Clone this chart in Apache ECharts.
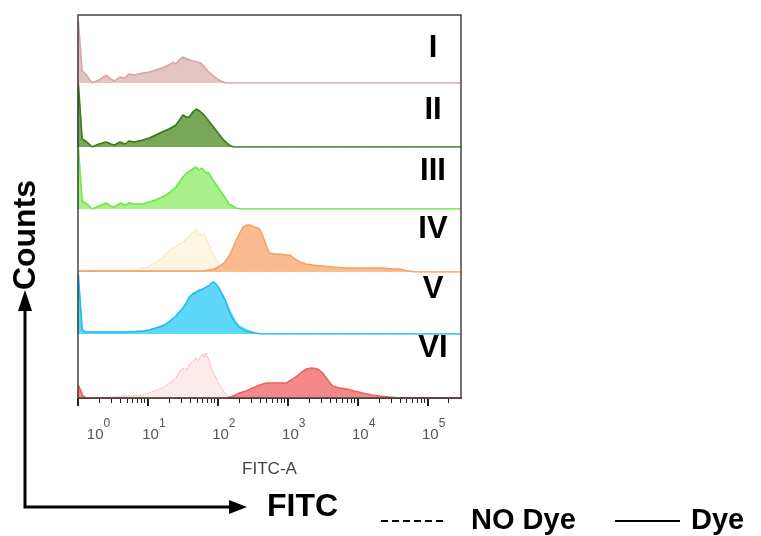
<!DOCTYPE html>
<html>
<head>
<meta charset="utf-8">
<script src="https://cdn.jsdelivr.net/npm/echarts@6/dist/echarts.min.js"></script>
<style>
  html, body { margin: 0; padding: 0; background: #fff; }
  #chart { width: 761px; height: 536px; }
</style>
</head>
<body>
<div id="chart"></div>
<script>
// FITC position is in decades (log10 of FITC-A), counts are per-panel histogram heights
const panelNames = ['I', 'II', 'III', 'IV', 'V', 'VI'];
const decadeTicks = [0, 1, 2, 3, 4, 5];

const noDyeI = [[0,0],[0.005,60],[0.03,60],[0.06,11],[0.11,8],[0.16,4],[0.2,0],[0.3,3],[0.4,7],[0.47,4],[0.52,2],[0.6,5],[0.67,5],[0.73,8],[0.8,8],[0.93,9],[1.02,11],[1.11,12],[1.2,14],[1.3,17],[1.36,20],[1.4,19],[1.46,23],[1.5,25],[1.56,24],[1.64,22],[1.7,21],[1.76,19],[1.82,15],[1.87,11],[1.94,7],[2.01,3],[2.1,0],[5.48,0]];
const dyeI = [[0,0],[0.005,62],[0.03,62],[0.06,12],[0.11,9],[0.16,4],[0.2,0],[0.3,3],[0.4,8],[0.47,4],[0.52,2],[0.6,6],[0.67,5],[0.73,9],[0.8,8],[0.93,10],[1.02,11],[1.11,13],[1.2,15],[1.3,18],[1.36,21],[1.4,19],[1.46,24],[1.5,26],[1.56,24],[1.64,22],[1.7,21],[1.76,20],[1.82,15],[1.87,11],[1.94,7],[2.01,3],[2.11,0],[5.48,0]];

const noDyeII = [[0,0],[0.005,63],[0.03,63],[0.06,7],[0.11,5],[0.16,3],[0.2,0],[0.3,3],[0.4,5],[0.47,3],[0.52,2],[0.6,4],[0.67,3],[0.73,6],[0.8,5],[0.93,7],[1.02,9],[1.11,11],[1.2,14],[1.3,17],[1.4,21],[1.46,27],[1.5,31],[1.55,30],[1.59,29],[1.64,34],[1.69,37],[1.74,36],[1.79,33],[1.87,26],[1.97,17],[2.07,8],[2.16,2],[2.22,0],[5.48,0]];
const dyeII = [[0,0],[0.005,64],[0.03,64],[0.06,8],[0.11,6],[0.16,3],[0.2,0],[0.3,3],[0.4,5],[0.47,3],[0.52,2],[0.6,5],[0.67,3],[0.73,6],[0.8,5],[0.93,7],[1.02,9],[1.11,12],[1.2,15],[1.3,18],[1.4,22],[1.46,28],[1.5,32],[1.55,30],[1.59,30],[1.64,35],[1.69,38],[1.74,36],[1.79,33],[1.87,26],[1.97,17],[2.07,8],[2.16,2],[2.22,0],[5.48,0]];

const noDyeIII = [[0,0],[0.005,61],[0.03,61],[0.06,7],[0.11,5],[0.16,3],[0.2,0],[0.3,3],[0.4,5],[0.47,3],[0.52,2],[0.6,5],[0.67,4],[0.73,6],[0.8,5],[0.93,5],[1.02,7],[1.11,9],[1.2,11],[1.26,14],[1.33,17],[1.4,21],[1.45,26],[1.5,31],[1.55,35],[1.59,37],[1.64,40],[1.69,41],[1.73,39],[1.77,40],[1.82,37],[1.87,35],[1.92,30],[1.97,25],[2.07,15],[2.16,5],[2.26,1],[2.32,0],[5.48,0]];
const dyeIII = [[0,0],[0.005,62],[0.03,62],[0.06,8],[0.11,6],[0.16,3],[0.2,0],[0.3,3],[0.4,6],[0.47,3],[0.52,2],[0.6,6],[0.67,4],[0.73,6],[0.8,5],[0.93,5],[1.02,7],[1.11,9],[1.2,12],[1.26,14],[1.33,18],[1.4,22],[1.45,27],[1.5,32],[1.55,36],[1.59,38],[1.64,40],[1.69,42],[1.73,39],[1.77,41],[1.82,37],[1.87,36],[1.92,30],[1.97,25],[2.07,15],[2.16,5],[2.26,1],[2.32,0],[5.48,0]];

const noDyeIV = [[0,1],[0.3,2],[0.6,2],[0.84,2],[0.95,4],[1.1,9],[1.2,14],[1.31,22],[1.4,26],[1.5,30],[1.59,36],[1.65,40],[1.69,43],[1.73,38],[1.77,36],[1.8,38],[1.84,33],[1.91,21],[1.97,13],[2.03,5],[2.08,1],[2.15,0],[5.48,0]];
const dyeIV = [[0,1],[0.5,1],[1.0,1],[1.5,1],[1.79,1],[1.95,3],[2.03,6],[2.1,10],[2.17,17],[2.22,25],[2.27,33],[2.32,40],[2.36,45],[2.42,47],[2.46,47],[2.52,45],[2.58,44],[2.62,40],[2.66,33],[2.7,25],[2.74,19],[2.81,18],[2.89,18],[2.96,17],[3.03,17],[3.1,13],[3.17,10],[3.26,8],[3.36,7],[3.5,6],[3.64,5],[3.85,4],[4.03,4],[4.2,4],[4.36,4],[4.5,3],[4.6,3],[4.72,1],[4.84,0],[5.48,0]];

const noDyeV = [[0,0],[0.005,58],[0.03,58],[0.06,4],[0.11,2],[0.3,2],[0.5,2],[0.7,2],[0.93,3],[1.02,4],[1.11,6],[1.2,8],[1.26,10],[1.33,13],[1.4,17],[1.45,21],[1.5,25],[1.55,30],[1.59,35],[1.64,39],[1.69,41],[1.74,43],[1.79,44],[1.83,46],[1.87,47],[1.91,49],[1.94,50],[1.97,49],[2.01,46],[2.06,41],[2.11,34],[2.15,27],[2.2,20],[2.25,14],[2.3,9],[2.4,5],[2.5,2],[2.6,0],[5.48,0]];
const dyeV = [[0,0],[0.005,60],[0.03,60],[0.06,4],[0.11,2],[0.3,2],[0.5,2],[0.7,2],[0.93,3],[1.02,4],[1.11,6],[1.2,8],[1.26,10],[1.33,14],[1.4,18],[1.45,22],[1.5,26],[1.55,31],[1.59,37],[1.64,40],[1.69,42],[1.74,44],[1.79,45],[1.83,47],[1.87,48],[1.91,51],[1.94,52],[1.97,50],[2.01,47],[2.06,40],[2.11,33],[2.15,25],[2.2,17],[2.25,11],[2.3,7],[2.4,3],[2.54,1],[2.62,0],[5.48,0]];

const noDyeVI = [[0,0],[0.3,1],[0.5,1],[0.7,2],[0.93,3],[1.05,6],[1.2,10],[1.3,14],[1.4,20],[1.45,26],[1.5,30],[1.55,28],[1.59,33],[1.65,37],[1.69,40],[1.72,38],[1.76,42],[1.79,44],[1.81,41],[1.83,45],[1.87,38],[1.91,30],[1.96,22],[2.01,15],[2.06,9],[2.11,4],[2.17,1],[2.22,0],[5.48,0]];
const dyeVI = [[0,0],[0.005,13],[0.03,12],[0.07,2],[0.12,0],[2.13,0],[2.22,2],[2.31,5],[2.4,7],[2.5,10],[2.6,13],[2.69,15],[2.8,15],[2.9,15],[2.98,15],[3.05,18],[3.13,22],[3.2,26],[3.27,29],[3.33,30],[3.4,29.5],[3.45,28],[3.5,25],[3.57,18],[3.64,12],[3.74,10],[3.84,9],[3.95,7],[4.07,5],[4.2,3],[4.31,2],[4.45,1],[4.6,0],[5.48,0]];

const noDyeData = [noDyeI, noDyeII, noDyeIII, noDyeIV, noDyeV, noDyeVI];
const dyeData = [dyeI, dyeII, dyeIII, dyeIV, dyeV, dyeVI];

// styling
const noDyeFill = ['#e8caca', '#80ab60', '#b0f397', '#fff5e2', '#8fe2f8', '#fdeaea'];
const noDyeLine = ['#dcb0b0', '#4d8a30', '#80e860', '#f4d9a0', '#5ed3f3', '#f2aaae'];
const dyeFill = ['#e4c3c3', '#77a656', '#a6f08b', '#f8b483', '#5ad6f7', '#f47b7b'];
const dyeLine = ['#d6a6a6', '#3a7b1c', '#72e54d', '#f3a264', '#19bdec', '#ee6060'];

const xMax = Math.log10(300000);
const panelEdges = [15, 83, 147, 209, 272, 334, 398];
const plotLeft = 78;
const plotWidth = 383;

const minorTicks = [];
decadeTicks.forEach(d => {
  for (let k = 2; k <= 9; k++) {
    const v = d + Math.log10(k);
    if (v < xMax) minorTicks.push(v);
  }
});

const chart = echarts.init(document.getElementById('chart'));

const grids = [], xAxes = [], yAxes = [], series = [];
panelNames.forEach((name, i) => {
  const h = panelEdges[i + 1] - panelEdges[i];
  grids.push({ left: plotLeft, top: panelEdges[i], width: plotWidth, height: h });
  const last = i === panelNames.length - 1;
  xAxes.push({
    type: 'value', gridIndex: i, min: 0, max: xMax, interval: 1,
    show: last,
    name: last ? 'FITC-A' : '',
    nameLocation: 'middle',
    nameGap: 63,
    nameTextStyle: { fontSize: 17, color: '#444', fontFamily: 'Liberation Sans' },
    axisLine: { show: true, lineStyle: { color: '#222', width: 2 } },
    axisTick: { show: true, length: 8, lineStyle: { color: '#222', width: 2 } },
    splitLine: { show: false },
    axisLabel: {
      margin: 20,
      formatter: v => v === 0 ? '{f|10}{s|0}' : '{b|10}{s|' + v + '}',
      rich: {
        b: { fontSize: 15, color: '#555', fontFamily: 'Liberation Sans', lineHeight: 34, padding: [0, 0, 0, 12] },
        f: { fontSize: 15, color: '#555', fontFamily: 'Liberation Sans', lineHeight: 34, padding: [0, 0, 0, 41] },
        s: { fontSize: 12, color: '#555', fontFamily: 'Liberation Sans', lineHeight: 12, verticalAlign: 'top' }
      }
    }
  });
  yAxes.push({ type: 'value', gridIndex: i, min: 0, max: h, show: false });
  series.push({
    name: 'NO Dye ' + name, type: 'line', xAxisIndex: i, yAxisIndex: i,
    data: noDyeData[i], showSymbol: false, symbol: 'none',
    lineStyle: { color: noDyeLine[i], width: 1.2, type: 'dotted' },
    areaStyle: { color: noDyeFill[i], opacity: 1 }
  });
  series.push({
    name: 'Dye ' + name, type: 'line', xAxisIndex: i, yAxisIndex: i,
    data: dyeData[i], showSymbol: false, symbol: 'none',
    lineStyle: { color: dyeLine[i], width: 1.5 },
    areaStyle: { color: dyeFill[i], opacity: 0.9 }
  });
});

// minor log ticks on the bottom panel
xAxes.push({
  type: 'value', gridIndex: 5, min: 0, max: xMax, position: 'bottom',
  axisLine: { show: false },
  axisTick: { show: true, length: 5, customValues: minorTicks, lineStyle: { color: '#222', width: 1 } },
  axisLabel: { show: false },
  splitLine: { show: false }
});

const bold = 'bold 32px "Liberation Sans", Arial, sans-serif';
const legendFont = 'bold 29px "Liberation Sans", Arial, sans-serif';
const labelY = [48, 110, 171, 229, 289, 348];
const graphic = [
  { type: 'rect', shape: { x: plotLeft, y: panelEdges[0], width: plotWidth, height: panelEdges[6] - panelEdges[0] },
    style: { fill: 'none', stroke: '#444', lineWidth: 1.5 }, z: 100 },
  // Counts / FITC arrows
  { type: 'polyline', shape: { points: [[25, 300], [25, 507], [238, 507]] }, style: { stroke: '#000', lineWidth: 3, fill: 'none' } },
  { type: 'polygon', shape: { points: [[25, 290], [18, 311], [32, 311]] }, style: { fill: '#000' } },
  { type: 'polygon', shape: { points: [[247, 507], [229, 500], [229, 514]] }, style: { fill: '#000' } },
  { type: 'text', x: 26, y: 235, rotation: Math.PI / 2,
    style: { text: 'Counts', font: bold, fill: '#000', align: 'center', verticalAlign: 'middle' } },
  { type: 'text', x: 267, y: 507, style: { text: 'FITC', font: bold, fill: '#000', align: 'left', verticalAlign: 'middle' } },
  // legend
  { type: 'line', shape: { x1: 381, y1: 521, x2: 445, y2: 521 }, style: { stroke: '#000', lineWidth: 2, lineDash: [7, 4] } },
  { type: 'text', x: 471, y: 521, style: { text: 'NO Dye', font: legendFont, fill: '#000', align: 'left', verticalAlign: 'middle' } },
  { type: 'line', shape: { x1: 615, y1: 521, x2: 680, y2: 521 }, style: { stroke: '#000', lineWidth: 2 } },
  { type: 'text', x: 691, y: 521, style: { text: 'Dye', font: legendFont, fill: '#000', align: 'left', verticalAlign: 'middle' } }
];
panelNames.forEach((name, i) => {
  graphic.push({ type: 'text', x: 433, y: labelY[i],
    style: { text: name, font: 'bold 31px "Liberation Sans", Arial, sans-serif', fill: '#000', align: 'center', verticalAlign: 'middle' }, z: 101 });
});

chart.setOption({
  animation: false,
  grid: grids,
  xAxis: xAxes,
  yAxis: yAxes,
  series: series,
  graphic: graphic
});
</script>
</body>
</html>
